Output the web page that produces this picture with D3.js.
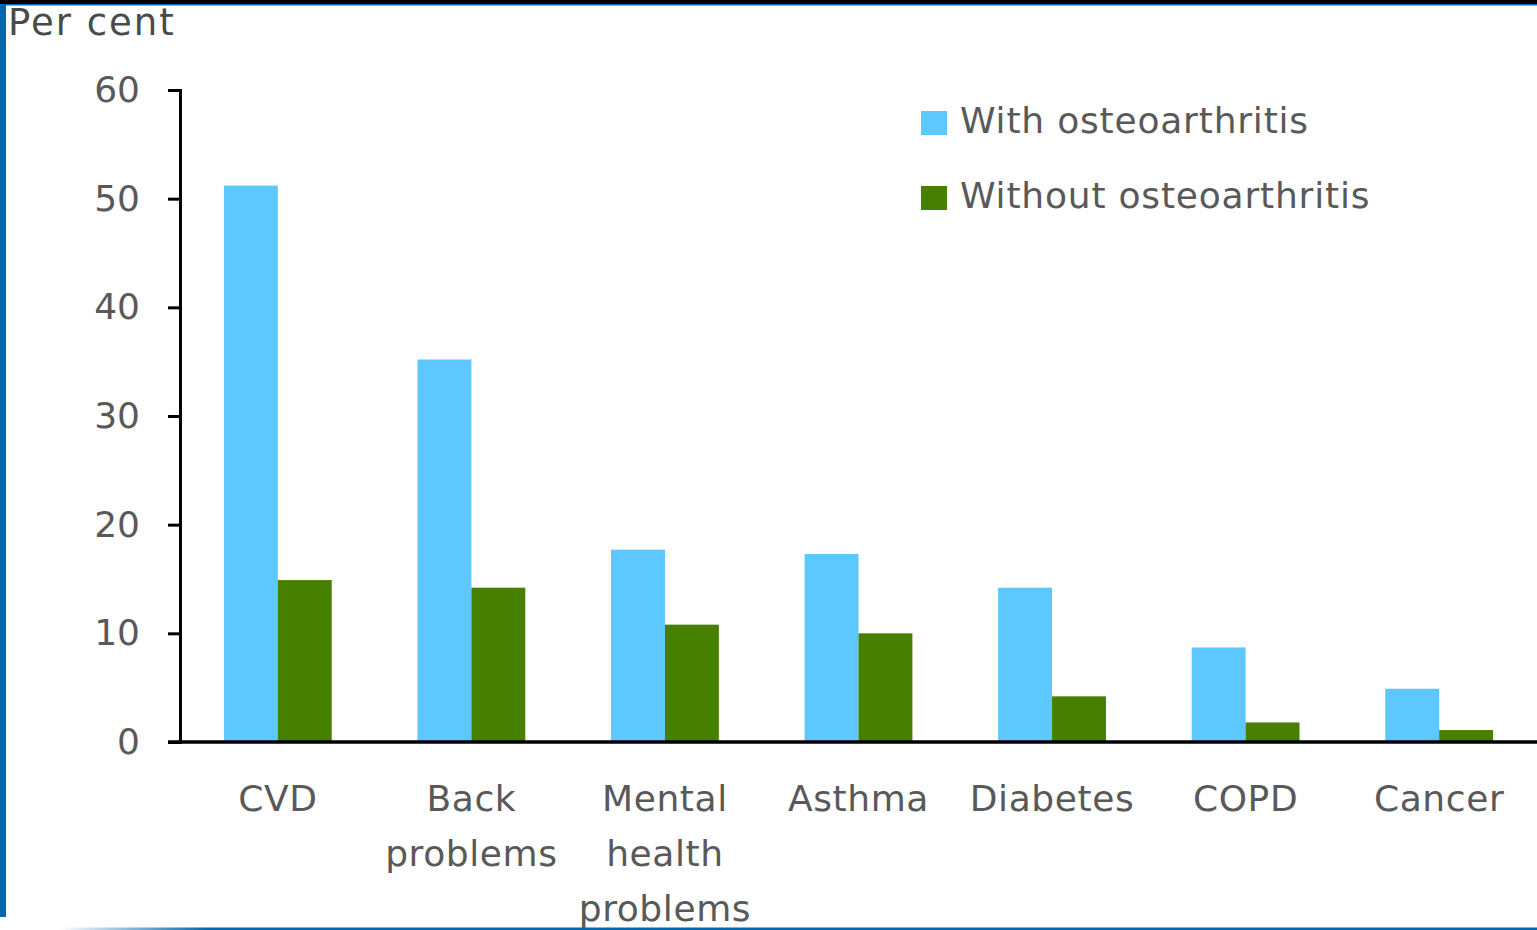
<!DOCTYPE html>
<html>
<head>
<meta charset="utf-8">
<script src="https://cdn.jsdelivr.net/npm/d3@7"></script>
<style>
  body {margin:0; background:#fff;}
  svg {display:block;}
  text {font-family:"DejaVu Sans", Verdana, sans-serif; fill:#595959;}
</style>
</head>
<body>
<svg id="chart" width="1537" height="930"></svg>
<script>
// data
var categories=['CVD','Back problems','Mental health problems','Asthma','Diabetes','COPD','Cancer'];
var labelLines=[['CVD'],['Back','problems'],['Mental','health','problems'],['Asthma'],['Diabetes'],['COPD'],['Cancer']];
var withOA=[51.2,35.2,17.7,17.3,14.2,8.7,4.9];
var withoutOA=[14.9,14.2,10.8,10.0,4.2,1.8,1.1];
var seriesNames=['With osteoarthritis','Without osteoarthritis'];
var seriesColors=['#5dc8ff','#477f00'];
var yTicks=[0,10,20,30,40,50,60];

var svg=d3.select('#chart');
var W=1537, H=930;
var padLeft=180, padRight=1537, padTop=90, padBottom=742;

// frame
svg.append('rect').attr('x',0).attr('y',0).attr('width',W).attr('height',4).attr('fill','#000');
svg.append('rect').attr('x',0).attr('y',4).attr('width',W).attr('height',1.5).attr('fill','#0068b0');
svg.append('rect').attr('x',0).attr('y',4).attr('width',6).attr('height',913).attr('fill','#0068b0');
var grad=svg.append('defs').append('linearGradient').attr('id','fade');
grad.append('stop').attr('offset','0').attr('stop-color','#0068b0').attr('stop-opacity',0);
grad.append('stop').attr('offset','0.1').attr('stop-color','#0068b0').attr('stop-opacity',1);
svg.append('rect').attr('x',60).attr('y',927.5).attr('width',W-60).attr('height',2.5).attr('fill','url(#fade)');

var x0=d3.scaleBand().domain(categories).range([padLeft,padRight]).paddingInner(0.443).paddingOuter(0.227);
var x1=d3.scaleBand().domain([0,1]).range([0,x0.bandwidth()]);
var y=d3.scaleLinear().domain([0,60]).range([padBottom,padTop]);

var g=svg.append('g');
categories.forEach(function(c,i) {
    [withOA[i],withoutOA[i]].forEach(function(v,s) {
        g.append('rect')
            .attr('x',x0(c)+x1(s))
            .attr('y',y(v))
            .attr('width',x1.bandwidth())
            .attr('height',padBottom-y(v))
            .attr('fill',seriesColors[s]);
    });
});

// y axis
var yAxis=d3.axisLeft(y).tickValues(yTicks).tickSize(12).tickPadding(28);
var ya=svg.append('g').attr('transform','translate('+padLeft+',0)').call(yAxis);
ya.select('.domain').attr('stroke','#000').attr('stroke-width',3);
ya.selectAll('.tick line').attr('stroke','#000').attr('stroke-width',3);
ya.selectAll('.tick text').style('font-size','36px').style('fill','#595959')
    .style('font-family','"DejaVu Sans", Verdana, sans-serif');

// x axis line
svg.append('line').attr('x1',168).attr('x2',W).attr('y1',padBottom).attr('y2',padBottom)
    .attr('stroke','#000').attr('stroke-width',3.5);

// category labels
categories.forEach(function(c,i) {
    var cx=x0(c)+x0.bandwidth()/2;
    var t=svg.append('text')
        .attr('x',cx)
        .attr('y',811)
        .attr('text-anchor','middle')
        .style('font-size','36px')
        .style('letter-spacing','0.6px');
    labelLines[i].forEach(function(l,k) {
        t.append('tspan').attr('x',cx).attr('dy',k==0?0:55).text(l);
    });
});

// title
svg.append('text').attr('x',8).attr('y',35).style('font-size','37px').style('letter-spacing','2px')
    .style('fill','#4a4a4a').text('Per cent');

// legend
seriesNames.forEach(function(n,s) {
    var ly=111+s*75;
    svg.append('rect').attr('x',921).attr('y',ly).attr('width',26).attr('height',24).attr('fill',seriesColors[s]);
    svg.append('text').attr('x',960).attr('y',ly+22).style('font-size','36px')
        .style('letter-spacing','0.8px').text(n);
});
</script>
</body>
</html>
